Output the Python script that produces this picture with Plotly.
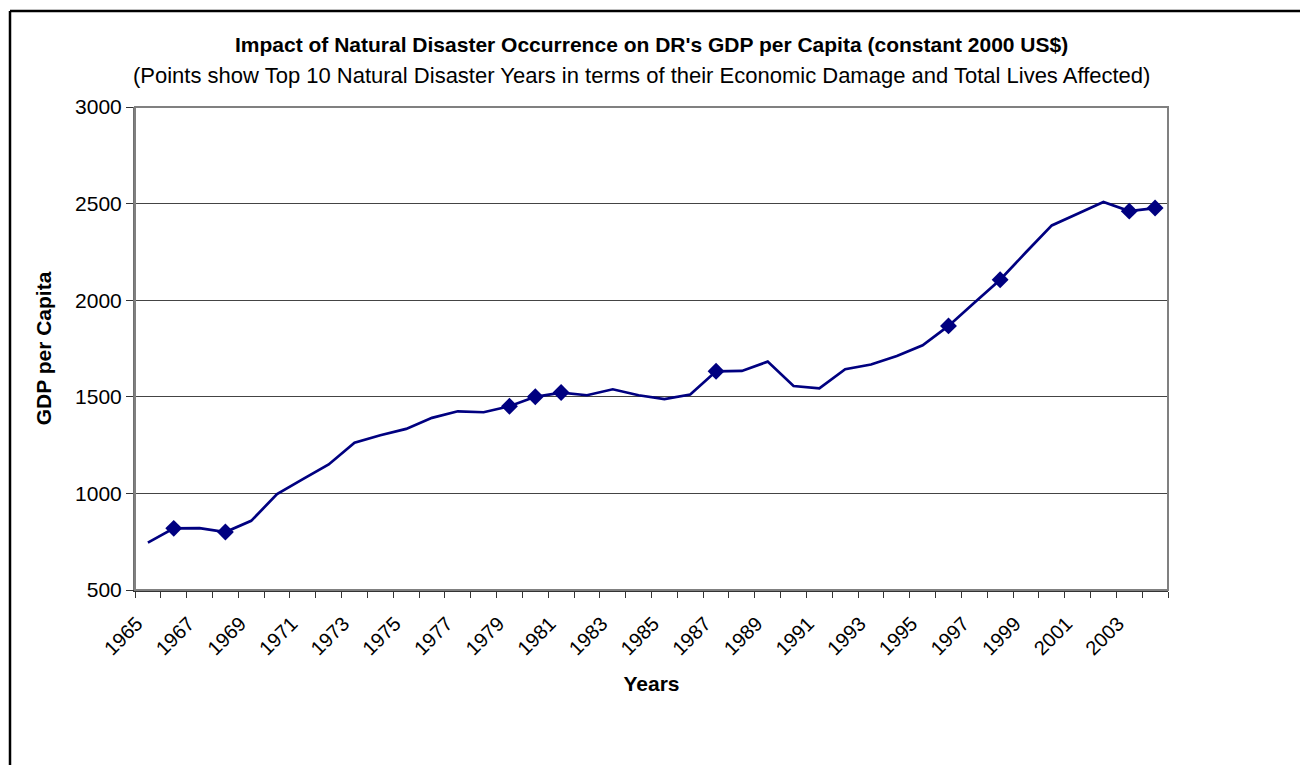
import plotly.graph_objects as go

# GDP per capita of the Dominican Republic, constant 2000 US$
years = list(range(1965, 2005))
gdp_per_capita = [
    745, 819, 820, 800, 858, 996, 1074, 1150, 1262, 1301,
    1334, 1391, 1425, 1420, 1451, 1500, 1522, 1508, 1539, 1508,
    1488, 1512, 1632, 1634, 1682, 1556, 1544, 1643, 1667, 1711,
    1767, 1867, 1987, 2106, 2248, 2387, 2448, 2508, 2461, 2477,
]

# Top 10 natural disaster years (economic damage and total lives affected)
disaster_years = [1966, 1968, 1979, 1980, 1981, 1987, 1996, 1998, 2003, 2004]
disaster_gdp = [gdp_per_capita[years.index(y)] for y in disaster_years]

tick_years = years[::2]
tick_labels = [str(y) for y in tick_years]
category_edges = [y - 0.5 for y in years] + [years[-1] + 0.5]

NAVY = "#000080"
FONT = "Liberation Sans, Arial, sans-serif"

fig = go.Figure()
fig.add_trace(go.Scatter(
    x=years, y=gdp_per_capita, mode="lines",
    line=dict(color=NAVY, width=2.7), showlegend=False,
))
fig.add_trace(go.Scatter(
    x=disaster_years, y=disaster_gdp, mode="markers",
    marker=dict(symbol="diamond", size=13, color=NAVY), showlegend=False,
))

W, H = 1300, 765
L, R, T, B = 135, 132, 107, 175
pw, ph = W - L - R, H - T - B

fig.update_layout(
    width=W, height=H,
    margin=dict(l=L, r=R, t=T, b=B),
    paper_bgcolor="white", plot_bgcolor="white",
    font=dict(family=FONT, color="black", size=20),
    xaxis=dict(
        range=[years[0] - 0.5, years[-1] + 0.5],
        tickmode="array", tickvals=tick_years, ticktext=tick_labels,
        tickangle=-45, ticks="outside", ticklen=6,
        tickcolor="rgba(0,0,0,0)", showgrid=False, zeroline=False,
        showline=True, linecolor="#333333", linewidth=2,
        minor=dict(tickmode="array", tickvals=category_edges,
                   ticks="outside", ticklen=6, tickcolor="#333333",
                   tickwidth=1, showgrid=False),
        tickfont=dict(size=20),
        ticklabelshift=-11, ticklabelstandoff=6,
        title=dict(text="<b>Years</b>", font=dict(size=21), standoff=18),
    ),
    yaxis=dict(
        range=[500, 3000], tickmode="linear", tick0=500, dtick=500,
        ticks="outside", ticklen=7, tickcolor="#333333",
        showgrid=True, gridcolor="#444444", gridwidth=1, zeroline=False,
        showline=True, linecolor="#707070", linewidth=2,
        tickfont=dict(size=21),
        title=dict(text="<b>GDP per Capita</b>", font=dict(size=21), standoff=18),
    ),
)

# plot area border
fig.add_shape(type="rect", xref="paper", yref="paper", x0=0, y0=0, x1=1, y1=1,
              line=dict(color="#808080", width=2), layer="above")

# chart frame (left and top edges visible within the page)
fx = (10 - L) / pw
fy = (H - B - 11) / ph
fig.add_shape(type="line", xref="paper", yref="paper", x0=fx, x1=fx, y0=fy, y1=-1,
              line=dict(color="black", width=2.5), layer="above")
fig.add_shape(type="line", xref="paper", yref="paper", x0=fx, x1=1.5, y0=fy, y1=fy,
              line=dict(color="black", width=2.5), layer="above")

# titles
fig.add_annotation(
    xref="paper", yref="paper", x=0.5, y=(H - B - 45) / ph, yanchor="middle",
    text="<b>Impact of Natural Disaster Occurrence on DR's GDP per Capita (constant 2000 US$)</b>",
    showarrow=False, font=dict(size=21),
)
fig.add_annotation(
    xref="paper", yref="paper", x=0.49, y=(H - B - 75) / ph, yanchor="middle",
    text="(Points show Top 10 Natural Disaster Years in terms of their Economic Damage and Total Lives Affected)",
    showarrow=False, font=dict(size=22),
)

fig.write_html("out.html")
